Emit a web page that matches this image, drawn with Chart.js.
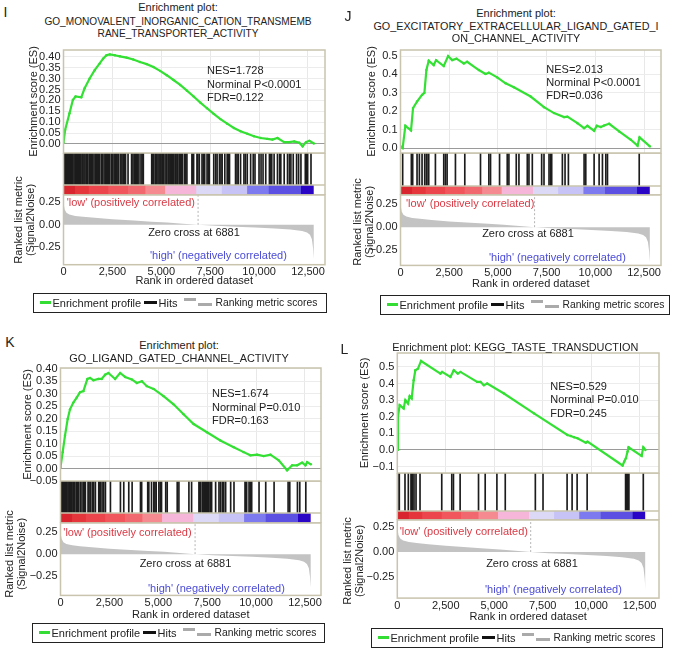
<!DOCTYPE html>
<html lang="en">
<head>
<meta charset="UTF-8">
<title>Enrichment plots I-L</title>
<script src="https://cdn.jsdelivr.net/npm/chart.js@4.4.0/dist/chart.umd.min.js"></script>
<style>
  body { margin: 0; background: #fff; font-family: 'Liberation Sans', Arial, sans-serif; color: #222; }
  #page { position: relative; width: 677px; height: 651px; overflow: hidden; }
  canvas { position: absolute; z-index: 0; }
  .t { position: absolute; white-space: nowrap; line-height: 1; font-size: 11px; z-index: 1; }
  .c { transform: translate(-50%, -50%); }
  .l { transform: translateY(-50%); }
  .nes { line-height: 13.3px; }
  .low { color: #d93a45; }
  .high { color: #4b4bd6; }
  .rot { transform: translate(-50%, -50%) rotate(-90deg); text-align: center; line-height: 11.5px; }
  .legend { position: absolute; height: 20px; border: 1.5px solid #222; box-sizing: border-box; z-index: 1; }
  .lg { position: absolute; height: 3px; }
  .lg.g { left: 6px; width: 11px; top: 7px; background: #33dd33; }
  .lg.k { left: 110px; width: 13px; top: 7px; background: #111; }
  .lg.s1 { left: 150px; width: 12px; top: 4px; background: #aaa; }
  .lg.s2 { left: 164px; width: 14px; top: 9px; background: #aaa; }
  .lt { position: absolute; top: 50%; transform: translateY(-50%); font-size: 11px; line-height: 1; white-space: nowrap; }
  .lt.r { font-size: 10.3px; }
</style>
</head>
<body>
<div id="page">
  <!-- I -->
  <div class="t c" style="left:5.5px;top:12px;font-size:14px">I</div>
  <div class="t c" style="left:178px;top:7.3px">Enrichment plot:</div>
  <div class="t c" style="left:178px;top:21.7px;font-size:10.1px">GO_MONOVALENT_INORGANIC_CATION_TRANSMEMB</div>
  <div class="t c" style="left:178px;top:33.5px;font-size:10.1px">RANE_TRANSPORTER_ACTIVITY</div>
  <div class="t nes" style="left:207px;top:64.4px">NES=1.728<br>Norminal P&lt;0.0001<br>FDR=0.122</div>
  <div class="t l low" style="left:66.7px;top:202.3px">'low' (positively correlated)</div>
  <div class="t c" style="left:194px;top:231.7px">Zero cross at 6881</div>
  <div class="t l high" style="left:150px;top:255px">'high' (negatively correlated)</div>
  <div class="t rot" style="left:24.3px;top:220px">Ranked list metric<br>(Signal2Noise)</div>
  <div class="legend" style="left:33px;top:293px;width:294px">
    <span class="lg g"></span><span class="lt" style="left:18.5px">Enrichment profile</span>
    <span class="lg k"></span><span class="lt" style="left:124.5px">Hits</span>
    <span class="lg s1"></span><span class="lg s2"></span><span class="lt r" style="left:181.5px">Ranking metric scores</span>
  </div>

  <!-- J -->
  <div class="t c" style="left:348px;top:15.7px;font-size:14px">J</div>
  <div class="t c" style="left:516px;top:12.7px">Enrichment plot:</div>
  <div class="t c" style="left:516px;top:25.7px;font-size:10.8px">GO_EXCITATORY_EXTRACELLULAR_LIGAND_GATED_I</div>
  <div class="t c" style="left:516px;top:37.7px;font-size:10.8px">ON_CHANNEL_ACTIVITY</div>
  <div class="t nes" style="left:546.3px;top:62.6px">NES=2.013<br>Norminal P&lt;0.0001<br>FDR=0.036</div>
  <div class="t l low" style="left:406px;top:203.3px">'low' (positively correlated)</div>
  <div class="t c" style="left:528px;top:233.3px">Zero cross at 6881</div>
  <div class="t l high" style="left:489px;top:256.7px">'high' (negatively correlated)</div>
  <div class="t rot" style="left:362.8px;top:222px">Ranked list metric<br>(Signal2Noise)</div>
  <div class="legend" style="left:380px;top:295px;width:290px">
    <span class="lg g"></span><span class="lt" style="left:18.5px">Enrichment profile</span>
    <span class="lg k"></span><span class="lt" style="left:124.5px">Hits</span>
    <span class="lg s1"></span><span class="lg s2"></span><span class="lt r" style="left:181.5px">Ranking metric scores</span>
  </div>

  <!-- K -->
  <div class="t c" style="left:10px;top:341.7px;font-size:14px">K</div>
  <div class="t c" style="left:179px;top:345px">Enrichment plot:</div>
  <div class="t c" style="left:179px;top:357.7px;font-size:10.9px">GO_LIGAND_GATED_CHANNEL_ACTIVITY</div>
  <div class="t nes" style="left:212px;top:387.4px">NES=1.674<br>Norminal P=0.010<br>FDR=0.163</div>
  <div class="t l low" style="left:63.3px;top:532.3px">'low' (positively correlated)</div>
  <div class="t c" style="left:185.5px;top:562.7px">Zero cross at 6881</div>
  <div class="t l high" style="left:148px;top:587.7px">'high' (negatively correlated)</div>
  <div class="t rot" style="left:15.2px;top:554px">Ranked list metric<br>(Signal2Noise)</div>
  <div class="legend" style="left:32px;top:623px;width:293px">
    <span class="lg g"></span><span class="lt" style="left:18.5px">Enrichment profile</span>
    <span class="lg k"></span><span class="lt" style="left:124.5px">Hits</span>
    <span class="lg s1"></span><span class="lg s2"></span><span class="lt r" style="left:181.5px">Ranking metric scores</span>
  </div>

  <!-- L -->
  <div class="t c" style="left:344.5px;top:349px;font-size:14px">L</div>
  <div class="t c" style="left:515.3px;top:346.7px;font-size:10.9px">Enrichment plot: KEGG_TASTE_TRANSDUCTION</div>
  <div class="t nes" style="left:550.3px;top:380px">NES=0.529<br>Norminal P=0.010<br>FDR=0.245</div>
  <div class="t l low" style="left:399.7px;top:530.7px">'low' (positively correlated)</div>
  <div class="t c" style="left:532px;top:562.7px">Zero cross at 6881</div>
  <div class="t l high" style="left:485px;top:589.3px">'high' (negatively correlated)</div>
  <div class="t rot" style="left:353px;top:561px">Ranked list metric<br>(Signal2Noise)</div>
  <div class="legend" style="left:371px;top:628px;width:292px">
    <span class="lg g"></span><span class="lt" style="left:18.5px">Enrichment profile</span>
    <span class="lg k"></span><span class="lt" style="left:124.5px">Hits</span>
    <span class="lg s1"></span><span class="lg s2"></span><span class="lt r" style="left:181.5px">Ranking metric scores</span>
  </div>
</div>

<script>
// shared ranked list (all four sets are scored against the same list)
const rankTicks = [0, 2500, 5000, 7500, 10000, 12500];
const zeroCross = 6881;
const metricTicks = [-0.25, 0, 0.25];
const metricRank = [0, 20, 60, 150, 300, 600, 1000, 1600, 2500, 3600, 4500, 5300, 6100, 6881, 7800, 8800, 9800, 10800, 11600, 12200, 12450, 12600, 12700, 12760, 12800];
const metricScore = [0.27, 0.22, 0.17, 0.135, 0.115, 0.1, 0.09, 0.078, 0.062, 0.048, 0.036, 0.026, 0.013, 0, -0.011, -0.02, -0.03, -0.04, -0.052, -0.068, -0.085, -0.11, -0.16, -0.26, -0.38];
// colour bar: block i ends at barEnds[i]
const barEnds = [600, 1300, 2300, 3300, 4200, 5200, 6800, 8100, 9400, 10500, 12150, 12800];
const barColors = ['#d9262e', '#e5363c', '#ec464c', '#f0565c', '#f2686f', '#f58a91', '#f6b6da', '#dcd9f7', '#c7c3f6', '#7d7aef', '#5b50e1', '#2a05c6'];

// I
const esTicksI = [0, 0.05, 0.10, 0.15, 0.20, 0.25, 0.30, 0.35, 0.40];
const esRankI = [0, 85, 307, 478, 616, 908, 1080, 1337, 1594, 1852, 2023, 2195, 2366, 2624, 2881, 3224, 3567, 3910, 4253, 4596, 4938, 5281, 5624, 5967, 6310, 6653, 6996, 7339, 7682, 8025, 8368, 8711, 9053, 9396, 9739, 10082, 10425, 10682, 10940, 11283, 11540, 11797, 12054, 12225, 12397, 12568, 12800];
const esScoreI = [0.005, 0.065, 0.141, 0.202, 0.218, 0.214, 0.256, 0.301, 0.339, 0.37, 0.392, 0.408, 0.412, 0.408, 0.403, 0.397, 0.388, 0.377, 0.367, 0.354, 0.336, 0.316, 0.294, 0.271, 0.245, 0.218, 0.19, 0.164, 0.138, 0.114, 0.093, 0.073, 0.058, 0.047, 0.035, 0.027, 0.023, 0.02, 0.027, 0.008, 0.008, 0.011, 0.005, -0.011, 0.008, 0.014, 0.002];
const hitsI = [51, 90, 137, 180, 223, 265, 309, 350, 394, 440, 480, 540, 600, 650, 703, 772, 820, 874, 943, 990, 1046, 1100, 1166, 1210, 1252, 1337, 1380, 1423, 1490, 1560, 1629, 1680, 1732, 1790, 1852, 1938, 2000, 2075, 2143, 2200, 2246, 2300, 2366, 2452, 2520, 2589, 2650, 2709, 2780, 2829, 2932, 2990, 3052, 3110, 3172, 3300, 3481, 3550, 3618, 3680, 3738, 3800, 3858, 3961, 4020, 4081, 4510, 4550, 4595, 4681, 4720, 4767, 4830, 4887, 4940, 4990, 5058, 5120, 5195, 5281, 5350, 5401, 5470, 5539, 5580, 5624, 5700, 5744, 5800, 5847, 5920, 5967, 6040, 6087, 6190, 6250, 6310, 6567, 6602, 6653, 6824, 6870, 6944, 7082, 7150, 7219, 7339, 7400, 7459, 7682, 7780, 7853, 7973, 8050, 8111, 8248, 8368, 8420, 8488, 8796, 8870, 8933, 9053, 9225, 9300, 9396, 9568, 9700, 9791, 9997, 10100, 10202, 10340, 10528, 10580, 10648, 10768, 10940, 11050, 11111, 11283, 11454, 11550, 11626, 11746, 11917, 12020, 12140, 12363, 12420, 12483, 12654];

// J
const esTicksJ = [0, 0.1, 0.2, 0.3, 0.4, 0.5];
const esRankJ = [0, 110, 249, 540, 643, 849, 1106, 1226, 1329, 1449, 1706, 1826, 2220, 2443, 2649, 2872, 3249, 3421, 4021, 4364, 4535, 4964, 5393, 5821, 6679, 7365, 7880, 8394, 8565, 9080, 9422, 9594, 9937, 10074, 10280, 10451, 10709, 11223, 11823, 12166, 12269, 12800];
const esScoreJ = [0.009, 0.0, 0.121, 0.096, 0.217, 0.253, 0.289, 0.30, 0.424, 0.475, 0.451, 0.478, 0.446, 0.50, 0.478, 0.486, 0.46, 0.469, 0.424, 0.403, 0.41, 0.384, 0.352, 0.33, 0.28, 0.222, 0.19, 0.168, 0.171, 0.135, 0.108, 0.121, 0.094, 0.121, 0.114, 0.123, 0.132, 0.09, 0.045, 0.013, 0.058, 0.009];
const hitsJ = [111, 557, 626, 849, 969, 1106, 1243, 1329, 1415, 1449, 1792, 2220, 2306, 2392, 2820, 3300, 4106, 4535, 4621, 5084, 5478, 5564, 5941, 6079, 6507, 6593, 6765, 7245, 7365, 7623, 7708, 7760, 8308, 8445, 8617, 9423, 9509, 9937, 10194, 10365, 10537, 10623, 12252];

// K
const esTicksK = [-0.05, 0, 0.05, 0.10, 0.15, 0.20, 0.25, 0.30, 0.35, 0.40];
const esRankK = [0, 111, 230, 367, 487, 657, 828, 999, 1170, 1375, 1511, 1682, 1938, 2109, 2280, 2451, 2793, 3049, 3305, 3647, 3903, 4159, 4415, 4757, 5269, 5781, 6293, 6806, 7489, 8172, 8855, 9367, 9709, 10050, 10392, 10733, 11160, 11587, 11843, 12099, 12355, 12526, 12611, 12800];
const esScoreK = [0.005, 0.066, 0.132, 0.199, 0.238, 0.265, 0.285, 0.307, 0.311, 0.36, 0.364, 0.355, 0.36, 0.36, 0.377, 0.384, 0.36, 0.384, 0.368, 0.358, 0.344, 0.351, 0.331, 0.32, 0.291, 0.258, 0.218, 0.179, 0.146, 0.113, 0.086, 0.066, 0.053, 0.056, 0.05, 0.056, 0.033, -0.007, 0.013, 0.013, 0.024, 0.013, 0.026, 0.017];
const hitsK = [20, 43, 75, 111, 160, 213, 270, 290, 333, 390, 453, 504, 560, 589, 650, 726, 800, 845, 880, 931, 1016, 1100, 1187, 1240, 1272, 1409, 1460, 1528, 1620, 1699, 1785, 1955, 2000, 2041, 2126, 2210, 2297, 2553, 3065, 3235, 3491, 3662, 4090, 4150, 4460, 4517, 4654, 4773, 4830, 4892, 5030, 5100, 5166, 5380, 5456, 5968, 6054, 6566, 6703, 7079, 7120, 7164, 7249, 7290, 7334, 7380, 7420, 7460, 7505, 7550, 7591, 7660, 7728, 7932, 8103, 8180, 8273, 8350, 8444, 8701, 8871, 9435, 9480, 9520, 9640, 9700, 9776, 10152, 10494, 10921, 11638, 11723, 12116, 12235, 12543];

// L
const esTicksL = [-0.1, 0, 0.1, 0.2, 0.3, 0.4, 0.5];
const esRankL = [0, 34, 121, 328, 414, 552, 638, 741, 845, 931, 1069, 1224, 2224, 2310, 2741, 2914, 3121, 3259, 4121, 4293, 4466, 4638, 5500, 7052, 8776, 8948, 9121, 9293, 9724, 9810, 11621, 11707, 11793, 11879, 11931, 12603, 12690, 12800];
const esScoreL = [0.0, 0.20, 0.27, 0.25, 0.30, 0.28, 0.324, 0.31, 0.42, 0.48, 0.49, 0.536, 0.46, 0.47, 0.44, 0.48, 0.46, 0.47, 0.41, 0.41, 0.39, 0.40, 0.34, 0.22, 0.09, 0.084, 0.076, 0.07, 0.044, 0.05, -0.094, -0.07, -0.05, -0.01, 0.016, -0.036, 0.016, 0.0];
const hitsL = [20, 103, 397, 569, 707, 741, 793, 862, 966, 1172, 2293, 2810, 2897, 3241, 4190, 4534, 5138, 5569, 7121, 7517, 8759, 9017, 9276, 9793, 11776, 11820, 11862, 11900, 11948, 12690];

const GREEN = '#33e033';
Chart.defaults.font.family = "'Liberation Sans', Arial, sans-serif";
Chart.defaults.font.size = 11;
Chart.defaults.color = '#222';
Chart.defaults.animation = false;
Chart.defaults.responsive = false;
Chart.defaults.plugins.legend.display = false;
Chart.defaults.plugins.tooltip.enabled = false;

// box around each plot area, plus optional horizontal rules (colour bar edge)
const framePlugin = {
  id: 'frame',
  afterDatasetsDraw(chart, args, opts) {
    const { ctx, chartArea: a } = chart;
    ctx.save();
    ctx.strokeStyle = '#c9c4ad';
    ctx.lineWidth = 1.5;
    ctx.strokeRect(a.left, a.top, a.width, a.height);
    (opts.lines || []).forEach(v => {
      const y = chart.scales.y.getPixelForValue(v);
      ctx.beginPath(); ctx.moveTo(a.left, y); ctx.lineTo(a.right, y); ctx.stroke();
    });
    ctx.restore();
  }
};

function fmt(v, dec) { return (v < 0 ? '\u2212' : '') + Math.abs(v).toFixed(dec); }
const fixTicks = vals => scale => { scale.ticks = vals.map(v => ({ value: v })); };
const fixWidth = w => scale => { scale.width = w; };
const fixHeight = h => scale => { scale.height = h; };

function addCanvas(left, top, width, height) {
  const c = document.createElement('canvas');
  c.width = Math.round(width); c.height = Math.round(height);
  c.style.left = left + 'px'; c.style.top = top + 'px';
  document.getElementById('page').appendChild(c);
  return c;
}

function drawPanel(p) {
  const axisW = p.left - p.x0;
  const W = Math.ceil(p.right - p.x0) + 6;
  const padR = W - (p.right - p.x0);

  // enrichment score
  new Chart(addCanvas(p.x0, p.esTop - 10, W, p.esBottom - p.esTop + 20), {
    type: 'line',
    data: { datasets: [{
      data: p.ranks.map((r, i) => ({ x: r, y: p.scores[i] })),
      borderColor: GREEN, backgroundColor: GREEN, borderWidth: 2.2,
      pointRadius: 1.2, pointBorderWidth: 0
    }] },
    options: {
      layout: { padding: { top: 10, bottom: 10, left: 0, right: padR } },
      scales: {
        x: { type: 'linear', min: 0, max: p.xMax, afterBuildTicks: fixTicks(rankTicks), afterFit: fixHeight(0),
             ticks: { display: false }, grid: { color: '#e8e8e8', drawTicks: false }, border: { display: false } },
        y: { min: p.esMin, max: p.esMax, afterBuildTicks: fixTicks(p.esTicks), afterFit: fixWidth(axisW),
             ticks: { padding: 3, autoSkip: false, callback: v => fmt(v, p.esDec) },
             grid: { drawTicks: false, color: c => c.tick.value === 0 ? '#9a9a9a' : '#ececec' },
             border: { display: false },
             title: { display: true, text: 'Enrichment score (ES)', padding: { top: p.esTitleX - 6.6, bottom: 0 } } }
      },
      plugins: { frame: {} }
    },
    plugins: [framePlugin]
  });

  // hits + colour bar; each block is filled from 0 to its end, earlier blocks sit on top
  const cbFrac = (p.cbBottom - p.cbTop) / (p.cbBottom - p.hitsTop);
  const blocks = barColors.map((col, i) => ({
    type: 'line', data: [{ x: 0, y: cbFrac }, { x: barEnds[i], y: cbFrac }],
    fill: 'origin', backgroundColor: col, borderWidth: 0, pointRadius: 0
  }));
  new Chart(addCanvas(p.x0, p.hitsTop, W, p.cbBottom - p.hitsTop), {
    type: 'bar',
    data: { datasets: [...blocks, {
      type: 'bar', data: p.hits.map(r => ({ x: r, y: [cbFrac, 1] })),
      backgroundColor: '#1c1c1c', barThickness: 1
    }] },
    options: {
      layout: { padding: { top: 0, bottom: 0, left: 0, right: padR } },
      scales: {
        x: { type: 'linear', min: 0, max: p.xMax, display: false, offset: false },
        y: { min: 0, max: 1, ticks: { display: false }, grid: { display: false }, border: { display: false }, afterFit: fixWidth(axisW) }
      },
      plugins: { frame: { lines: [cbFrac] } }
    },
    plugins: [framePlugin]
  });

  // ranked list metric
  new Chart(addCanvas(p.x0, p.mTop - 10, W, p.mBottom - p.mTop + 10 + p.axisH), {
    type: 'line',
    data: { datasets: [
      { data: metricRank.map((r, i) => ({ x: r, y: metricScore[i] })), fill: 'origin',
        backgroundColor: '#c3c3c3', borderWidth: 0, pointRadius: 0 },
      { data: [{ x: zeroCross, y: 0 }, { x: zeroCross, y: p.mMax }], borderColor: '#b5b5b5',
        borderDash: [2, 2], borderWidth: 1, pointRadius: 0 }
    ] },
    options: {
      layout: { padding: { top: 10, bottom: 0, left: 0, right: padR } },
      scales: {
        x: { type: 'linear', min: 0, max: p.xMax, afterBuildTicks: fixTicks(rankTicks), afterFit: fixHeight(p.axisH),
             ticks: { padding: 1, maxRotation: 0, autoSkip: false, callback: v => v.toLocaleString('en-US') },
             grid: { display: false, drawTicks: false }, border: { display: false },
             title: { display: true, text: 'Rank in ordered dataset', padding: { top: 0, bottom: 0 } } },
        y: { min: p.mMin, max: p.mMax, afterBuildTicks: fixTicks(metricTicks), afterFit: fixWidth(axisW),
             ticks: { padding: 3, autoSkip: false, callback: v => fmt(v, 2) },
             grid: { display: false, drawTicks: false }, border: { display: false } }
      },
      plugins: { frame: {} }
    },
    plugins: [framePlugin]
  });
}

drawPanel({ x0: 0, left: 63.5, right: 325, xMax: 13370,
  esTop: 50, esBottom: 153, esMin: -0.042, esMax: 0.432, esTicks: esTicksI, esDec: 2, esTitleX: 34,
  hitsTop: 153, cbTop: 185, cbBottom: 195,
  mTop: 195, mBottom: 265, mMin: -0.444, mMax: 0.333, axisH: 23.3,
  ranks: esRankI, scores: esScoreI, hits: hitsI });

drawPanel({ x0: 337, left: 400.5, right: 661, xMax: 13370,
  esTop: 50, esBottom: 153, esMin: -0.027, esMax: 0.533, esTicks: esTicksJ, esDec: 1, esTitleX: 35,
  hitsTop: 153, cbTop: 186, cbBottom: 195,
  mTop: 195, mBottom: 265, mMin: -0.413, mMax: 0.348, axisH: 25.6,
  ranks: esRankJ, scores: esScoreJ, hits: hitsJ });

drawPanel({ x0: 0, left: 60.5, right: 321, xMax: 13320,
  esTop: 368, esBottom: 481, esMin: -0.05, esMax: 0.404, esTicks: esTicksK, esDec: 2, esTitleX: 27.5,
  hitsTop: 481, cbTop: 513, cbBottom: 523,
  mTop: 523, mBottom: 595, mMin: -0.466, mMax: 0.352, axisH: 26.6,
  ranks: esRankK, scores: esScoreK, hits: hitsK });

drawPanel({ x0: 337, left: 397.3, right: 659, xMax: 13500,
  esTop: 353, esBottom: 473, esMin: -0.139, esMax: 0.584, esTicks: esTicksL, esDec: 1, esTitleX: 28,
  hitsTop: 473, cbTop: 511, cbBottom: 520,
  mTop: 520, mBottom: 598, mMin: -0.46, mMax: 0.32, axisH: 25.9,
  ranks: esRankL, scores: esScoreL, hits: hitsL });
</script>
</body>
</html>
